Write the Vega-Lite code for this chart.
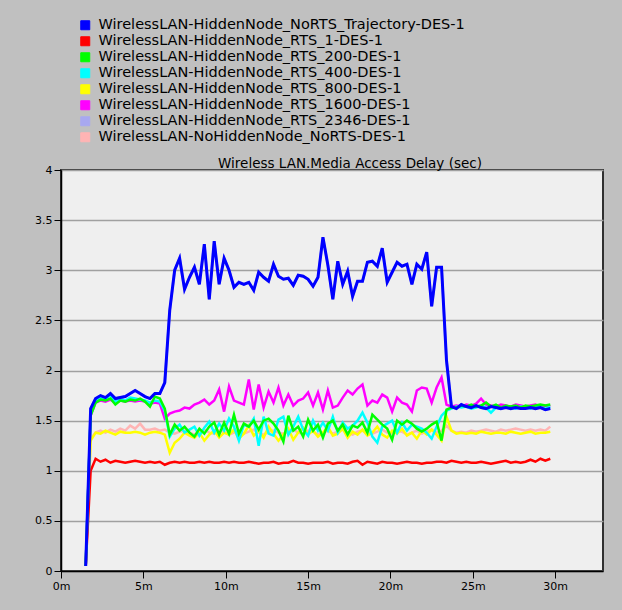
{
  "$schema": "https://vega.github.io/schema/vega-lite/v6.json",
  "width": 542,
  "height": 401,
  "autosize": {"type": "none"},
  "padding": {"left": 61, "top": 170, "right": 19, "bottom": 39},
  "background": "#c0c0c0",
  "title": {"text": "Wireless LAN.Media Access Delay (sec)", "font": "DejaVu Sans", "fontSize": 13.5, "fontWeight": "normal", "color": "black", "anchor": "middle", "dx": 18, "dy": 156, "offset": 4},
  "data": {"values": [
    {"t":1.5,"B":0.05,"L":0.05,"R":0.05,"G":0.05,"C":0.05,"Y":0.05,"M":0.05,"P":0.05},
    {"t":1.8,"B":1.62,"L":1.62,"R":1.00,"G":1.55,"C":1.58,"Y":1.30,"M":1.55,"P":1.32},
    {"t":2.1,"B":1.72,"L":1.72,"R":1.12,"G":1.68,"C":1.70,"Y":1.38,"M":1.68,"P":1.38},
    {"t":2.4,"B":1.75,"L":1.75,"R":1.09,"G":1.71,"C":1.73,"Y":1.37,"M":1.70,"P":1.40},
    {"t":2.7,"B":1.73,"L":1.73,"R":1.11,"G":1.70,"C":1.71,"Y":1.40,"M":1.69,"P":1.38},
    {"t":3.0,"B":1.77,"L":1.77,"R":1.08,"G":1.72,"C":1.76,"Y":1.38,"M":1.71,"P":1.41},
    {"t":3.3,"B":1.72,"L":1.72,"R":1.10,"G":1.66,"C":1.69,"Y":1.36,"M":1.68,"P":1.39},
    {"t":3.6,"B":1.73,"L":1.73,"R":1.09,"G":1.70,"C":1.72,"Y":1.39,"M":1.70,"P":1.42},
    {"t":3.9,"B":1.74,"L":1.74,"R":1.08,"G":1.69,"C":1.70,"Y":1.38,"M":1.69,"P":1.40},
    {"t":4.2,"B":1.77,"L":1.77,"R":1.09,"G":1.71,"C":1.73,"Y":1.38,"M":1.70,"P":1.45},
    {"t":4.5,"B":1.80,"L":1.80,"R":1.10,"G":1.70,"C":1.72,"Y":1.39,"M":1.69,"P":1.42},
    {"t":4.8,"B":1.77,"L":1.77,"R":1.09,"G":1.72,"C":1.71,"Y":1.38,"M":1.70,"P":1.47},
    {"t":5.1,"B":1.74,"L":1.74,"R":1.08,"G":1.69,"C":1.70,"Y":1.36,"M":1.69,"P":1.41},
    {"t":5.4,"B":1.72,"L":1.72,"R":1.09,"G":1.64,"C":1.68,"Y":1.38,"M":1.67,"P":1.41},
    {"t":5.7,"B":1.77,"L":1.77,"R":1.08,"G":1.74,"C":1.70,"Y":1.39,"M":1.68,"P":1.42},
    {"t":6.0,"B":1.77,"L":1.77,"R":1.09,"G":1.72,"C":1.69,"Y":1.38,"M":1.67,"P":1.40},
    {"t":6.3,"B":1.88,"L":1.88,"R":1.06,"G":1.62,"C":1.60,"Y":1.36,"M":1.52,"P":1.41},
    {"t":6.6,"B":2.60,"L":2.60,"R":1.08,"G":1.36,"C":1.34,"Y":1.18,"M":1.57,"P":1.38},
    {"t":6.9,"B":3.00,"L":3.00,"R":1.09,"G":1.46,"C":1.42,"Y":1.28,"M":1.59,"P":1.37},
    {"t":7.2,"B":3.12,"L":3.12,"R":1.08,"G":1.40,"C":1.46,"Y":1.32,"M":1.60,"P":1.39},
    {"t":7.5,"B":2.81,"L":2.81,"R":1.09,"G":1.44,"C":1.38,"Y":1.38,"M":1.63,"P":1.40},
    {"t":7.8,"B":2.93,"L":2.93,"R":1.08,"G":1.38,"C":1.41,"Y":1.35,"M":1.62,"P":1.38},
    {"t":8.1,"B":3.03,"L":3.03,"R":1.08,"G":1.34,"C":1.44,"Y":1.33,"M":1.66,"P":1.36},
    {"t":8.4,"B":2.86,"L":2.86,"R":1.09,"G":1.42,"C":1.35,"Y":1.38,"M":1.68,"P":1.39},
    {"t":8.7,"B":3.26,"L":3.26,"R":1.08,"G":1.37,"C":1.43,"Y":1.30,"M":1.71,"P":1.41},
    {"t":9.0,"B":2.71,"L":2.71,"R":1.09,"G":1.44,"C":1.49,"Y":1.36,"M":1.66,"P":1.38},
    {"t":9.3,"B":3.29,"L":3.29,"R":1.08,"G":1.48,"C":1.38,"Y":1.40,"M":1.70,"P":1.37},
    {"t":9.6,"B":2.86,"L":2.86,"R":1.08,"G":1.36,"C":1.47,"Y":1.33,"M":1.81,"P":1.40},
    {"t":9.9,"B":3.12,"L":3.12,"R":1.09,"G":1.48,"C":1.40,"Y":1.38,"M":1.59,"P":1.39},
    {"t":10.2,"B":3.00,"L":3.00,"R":1.08,"G":1.37,"C":1.52,"Y":1.36,"M":1.84,"P":1.36},
    {"t":10.5,"B":2.83,"L":2.83,"R":1.09,"G":1.56,"C":1.44,"Y":1.41,"M":1.70,"P":1.38},
    {"t":10.8,"B":2.88,"L":2.88,"R":1.08,"G":1.37,"C":1.30,"Y":1.32,"M":1.68,"P":1.40},
    {"t":11.1,"B":2.86,"L":2.86,"R":1.08,"G":1.47,"C":1.46,"Y":1.37,"M":1.66,"P":1.37},
    {"t":11.4,"B":2.88,"L":2.88,"R":1.09,"G":1.44,"C":1.44,"Y":1.45,"M":1.91,"P":1.39},
    {"t":11.7,"B":2.80,"L":2.80,"R":1.08,"G":1.50,"C":1.52,"Y":1.35,"M":1.61,"P":1.41},
    {"t":12.0,"B":2.98,"L":2.98,"R":1.07,"G":1.41,"C":1.25,"Y":1.40,"M":1.86,"P":1.38},
    {"t":12.3,"B":2.93,"L":2.93,"R":1.08,"G":1.50,"C":1.54,"Y":1.33,"M":1.63,"P":1.36},
    {"t":12.6,"B":2.89,"L":2.89,"R":1.08,"G":1.52,"C":1.37,"Y":1.44,"M":1.79,"P":1.39},
    {"t":12.9,"B":3.06,"L":3.06,"R":1.09,"G":1.47,"C":1.35,"Y":1.37,"M":1.68,"P":1.40},
    {"t":13.2,"B":2.94,"L":2.94,"R":1.07,"G":1.40,"C":1.51,"Y":1.30,"M":1.83,"P":1.38},
    {"t":13.5,"B":2.91,"L":2.91,"R":1.08,"G":1.29,"C":1.54,"Y":1.36,"M":1.65,"P":1.37},
    {"t":13.8,"B":2.92,"L":2.92,"R":1.08,"G":1.55,"C":1.36,"Y":1.42,"M":1.76,"P":1.39},
    {"t":14.1,"B":2.85,"L":2.85,"R":1.10,"G":1.40,"C":1.44,"Y":1.31,"M":1.65,"P":1.41},
    {"t":14.4,"B":2.95,"L":2.95,"R":1.08,"G":1.44,"C":1.54,"Y":1.38,"M":1.70,"P":1.38},
    {"t":14.7,"B":2.94,"L":2.94,"R":1.08,"G":1.34,"C":1.41,"Y":1.43,"M":1.72,"P":1.37},
    {"t":15.0,"B":2.91,"L":2.91,"R":1.07,"G":1.51,"C":1.35,"Y":1.36,"M":1.78,"P":1.40},
    {"t":15.3,"B":2.84,"L":2.84,"R":1.08,"G":1.40,"C":1.50,"Y":1.40,"M":1.65,"P":1.39},
    {"t":15.6,"B":2.93,"L":2.93,"R":1.08,"G":1.46,"C":1.40,"Y":1.34,"M":1.78,"P":1.36},
    {"t":15.9,"B":3.33,"L":3.33,"R":1.08,"G":1.33,"C":1.48,"Y":1.38,"M":1.61,"P":1.38},
    {"t":16.2,"B":3.05,"L":3.05,"R":1.09,"G":1.47,"C":1.40,"Y":1.44,"M":1.80,"P":1.40},
    {"t":16.5,"B":2.71,"L":2.71,"R":1.07,"G":1.50,"C":1.54,"Y":1.35,"M":1.63,"P":1.37},
    {"t":16.8,"B":3.09,"L":3.09,"R":1.08,"G":1.40,"C":1.38,"Y":1.37,"M":1.65,"P":1.39},
    {"t":17.1,"B":2.86,"L":2.86,"R":1.08,"G":1.46,"C":1.48,"Y":1.42,"M":1.73,"P":1.41},
    {"t":17.4,"B":2.99,"L":2.99,"R":1.07,"G":1.36,"C":1.42,"Y":1.33,"M":1.80,"P":1.38},
    {"t":17.7,"B":2.74,"L":2.74,"R":1.09,"G":1.45,"C":1.45,"Y":1.39,"M":1.76,"P":1.36},
    {"t":18.0,"B":2.89,"L":2.89,"R":1.10,"G":1.43,"C":1.50,"Y":1.36,"M":1.82,"P":1.39},
    {"t":18.3,"B":2.89,"L":2.89,"R":1.06,"G":1.48,"C":1.58,"Y":1.41,"M":1.86,"P":1.40},
    {"t":18.6,"B":3.08,"L":3.08,"R":1.09,"G":1.38,"C":1.48,"Y":1.35,"M":1.65,"P":1.38},
    {"t":18.9,"B":3.09,"L":3.09,"R":1.08,"G":1.56,"C":1.34,"Y":1.38,"M":1.70,"P":1.37},
    {"t":19.2,"B":3.04,"L":3.04,"R":1.07,"G":1.51,"C":1.28,"Y":1.44,"M":1.68,"P":1.39},
    {"t":19.5,"B":3.22,"L":3.22,"R":1.09,"G":1.46,"C":1.44,"Y":1.36,"M":1.76,"P":1.41},
    {"t":19.8,"B":2.88,"L":2.88,"R":1.08,"G":1.42,"C":1.47,"Y":1.33,"M":1.73,"P":1.38},
    {"t":20.1,"B":2.98,"L":2.98,"R":1.08,"G":1.31,"C":1.50,"Y":1.40,"M":1.59,"P":1.37},
    {"t":20.4,"B":3.08,"L":3.08,"R":1.07,"G":1.50,"C":1.38,"Y":1.37,"M":1.73,"P":1.40},
    {"t":20.7,"B":3.04,"L":3.04,"R":1.08,"G":1.46,"C":1.48,"Y":1.42,"M":1.68,"P":1.39},
    {"t":21.0,"B":3.06,"L":3.06,"R":1.09,"G":1.50,"C":1.40,"Y":1.35,"M":1.66,"P":1.36},
    {"t":21.3,"B":2.86,"L":2.86,"R":1.08,"G":1.47,"C":1.46,"Y":1.38,"M":1.59,"P":1.38},
    {"t":21.6,"B":3.06,"L":3.06,"R":1.08,"G":1.42,"C":1.44,"Y":1.32,"M":1.80,"P":1.40},
    {"t":21.9,"B":3.01,"L":3.01,"R":1.07,"G":1.39,"C":1.42,"Y":1.40,"M":1.83,"P":1.37},
    {"t":22.2,"B":3.18,"L":3.18,"R":1.08,"G":1.42,"C":1.38,"Y":1.36,"M":1.82,"P":1.39},
    {"t":22.5,"B":2.64,"L":2.64,"R":1.08,"G":1.46,"C":1.32,"Y":1.41,"M":1.68,"P":1.41},
    {"t":22.8,"B":3.03,"L":3.03,"R":1.09,"G":1.49,"C":1.44,"Y":1.36,"M":1.83,"P":1.38},
    {"t":23.1,"B":3.03,"L":3.03,"R":1.09,"G":1.30,"C":1.55,"Y":1.30,"M":1.93,"P":1.40},
    {"t":23.4,"B":2.10,"L":2.10,"R":1.08,"G":1.61,"C":1.60,"Y":1.54,"M":1.66,"P":1.45},
    {"t":23.7,"B":1.64,"L":1.64,"R":1.10,"G":1.63,"C":1.62,"Y":1.40,"M":1.64,"P":1.40},
    {"t":24.0,"B":1.62,"L":1.62,"R":1.09,"G":1.63,"C":1.64,"Y":1.37,"M":1.65,"P":1.38},
    {"t":24.3,"B":1.66,"L":1.66,"R":1.08,"G":1.65,"C":1.63,"Y":1.38,"M":1.64,"P":1.39},
    {"t":24.6,"B":1.64,"L":1.64,"R":1.09,"G":1.64,"C":1.64,"Y":1.37,"M":1.66,"P":1.38},
    {"t":24.9,"B":1.63,"L":1.63,"R":1.08,"G":1.66,"C":1.62,"Y":1.38,"M":1.65,"P":1.40},
    {"t":25.2,"B":1.65,"L":1.65,"R":1.08,"G":1.64,"C":1.63,"Y":1.37,"M":1.67,"P":1.39},
    {"t":25.5,"B":1.63,"L":1.63,"R":1.09,"G":1.65,"C":1.65,"Y":1.39,"M":1.72,"P":1.40},
    {"t":25.8,"B":1.62,"L":1.62,"R":1.08,"G":1.68,"C":1.63,"Y":1.38,"M":1.66,"P":1.41},
    {"t":26.1,"B":1.64,"L":1.64,"R":1.07,"G":1.64,"C":1.58,"Y":1.37,"M":1.65,"P":1.40},
    {"t":26.4,"B":1.63,"L":1.63,"R":1.08,"G":1.66,"C":1.63,"Y":1.38,"M":1.64,"P":1.39},
    {"t":26.7,"B":1.62,"L":1.62,"R":1.09,"G":1.63,"C":1.62,"Y":1.38,"M":1.66,"P":1.41},
    {"t":27.0,"B":1.63,"L":1.63,"R":1.10,"G":1.65,"C":1.64,"Y":1.37,"M":1.65,"P":1.40},
    {"t":27.3,"B":1.62,"L":1.62,"R":1.08,"G":1.64,"C":1.63,"Y":1.39,"M":1.64,"P":1.41},
    {"t":27.6,"B":1.63,"L":1.63,"R":1.09,"G":1.65,"C":1.62,"Y":1.38,"M":1.66,"P":1.42},
    {"t":27.9,"B":1.62,"L":1.62,"R":1.08,"G":1.63,"C":1.64,"Y":1.37,"M":1.65,"P":1.41},
    {"t":28.2,"B":1.62,"L":1.62,"R":1.09,"G":1.65,"C":1.63,"Y":1.38,"M":1.64,"P":1.40},
    {"t":28.5,"B":1.63,"L":1.63,"R":1.11,"G":1.64,"C":1.62,"Y":1.39,"M":1.65,"P":1.41},
    {"t":28.8,"B":1.62,"L":1.62,"R":1.09,"G":1.65,"C":1.64,"Y":1.37,"M":1.66,"P":1.40},
    {"t":29.1,"B":1.63,"L":1.63,"R":1.12,"G":1.66,"C":1.63,"Y":1.38,"M":1.64,"P":1.41},
    {"t":29.4,"B":1.61,"L":1.61,"R":1.10,"G":1.65,"C":1.62,"Y":1.38,"M":1.65,"P":1.40},
    {"t":29.7,"B":1.62,"L":1.62,"R":1.12,"G":1.66,"C":1.64,"Y":1.39,"M":1.64,"P":1.44}
  ]},
  "transform": [
    {"fold": ["L", "P", "Y", "R", "M", "C", "G", "B"], "as": ["k", "v"]},
    {"lookup": "k", "from": {"data": {"values": [
      {"k": "B", "name": "WirelessLAN-HiddenNode_NoRTS_Trajectory-DES-1"},
      {"k": "R", "name": "WirelessLAN-HiddenNode_RTS_1-DES-1"},
      {"k": "G", "name": "WirelessLAN-HiddenNode_RTS_200-DES-1"},
      {"k": "C", "name": "WirelessLAN-HiddenNode_RTS_400-DES-1"},
      {"k": "Y", "name": "WirelessLAN-HiddenNode_RTS_800-DES-1"},
      {"k": "M", "name": "WirelessLAN-HiddenNode_RTS_1600-DES-1"},
      {"k": "L", "name": "WirelessLAN-HiddenNode_RTS_2346-DES-1"},
      {"k": "P", "name": "WirelessLAN-NoHiddenNode_NoRTS-DES-1"}
    ]}, "key": "k", "fields": ["name"]}}
  ],
  "encoding": {
    "x": {"field": "t", "type": "quantitative",
      "scale": {"domain": [0, 32.9], "nice": false, "zero": false},
      "axis": {"values": [0, 5, 10, 15, 20, 25, 30], "labelExpr": "datum.value + 'm'", "grid": false, "title": null, "labelFlush": false}},
    "y": {"field": "v", "type": "quantitative",
      "scale": {"domain": [0, 4], "nice": false},
      "axis": {"values": [0, 0.5, 1, 1.5, 2, 2.5, 3, 3.5, 4], "format": "~g", "grid": true, "title": null}},
    "color": {"field": "name", "type": "nominal",
      "scale": {"domain": [
        "WirelessLAN-HiddenNode_NoRTS_Trajectory-DES-1",
        "WirelessLAN-HiddenNode_RTS_1-DES-1",
        "WirelessLAN-HiddenNode_RTS_200-DES-1",
        "WirelessLAN-HiddenNode_RTS_400-DES-1",
        "WirelessLAN-HiddenNode_RTS_800-DES-1",
        "WirelessLAN-HiddenNode_RTS_1600-DES-1",
        "WirelessLAN-HiddenNode_RTS_2346-DES-1",
        "WirelessLAN-NoHiddenNode_NoRTS-DES-1"],
        "range": ["#0000ff", "#ff0000", "#00ff00", "#00ffff", "#ffff00", "#ff00ff", "#a8a8f0", "#ffb4b4"]},
      "legend": {"orient": "none", "legendX": 17, "legendY": -152, "title": null, "direction": "vertical",
        "symbolType": "square", "symbolSize": 81, "labelFont": "DejaVu Sans", "labelFontSize": 14.5, "labelColor": "black",
        "labelLimit": 0, "labelOffset": 6, "rowPadding": 1, "padding": 0,
        "encode": {"symbols": {"update": {"fill": {"scale": "color", "field": "value"}, "fillOpacity": {"value": 1}, "stroke": {"value": "black"}, "strokeWidth": {"value": 1}}}}}}
  },
  "layer": [
    {"transform": [{"filter": "datum.k !== 'B'"}], "mark": {"type": "line", "strokeWidth": 2.5, "clip": true}},
    {"transform": [{"filter": "datum.k === 'B'"}], "mark": {"type": "line", "strokeWidth": 3, "clip": true}}
  ],
  "config": {
    "view": {"fill": "#efefef", "stroke": "#303030", "strokeWidth": 2},
    "axis": {"labelFont": "DejaVu Sans", "labelFontSize": 11, "labelColor": "black", "tickColor": "black", "domainColor": "black", "tickSize": 7, "labelPadding": 2, "gridColor": "#a0a0a0", "gridWidth": 1.5, "domainWidth": 1.5}
  }
}
